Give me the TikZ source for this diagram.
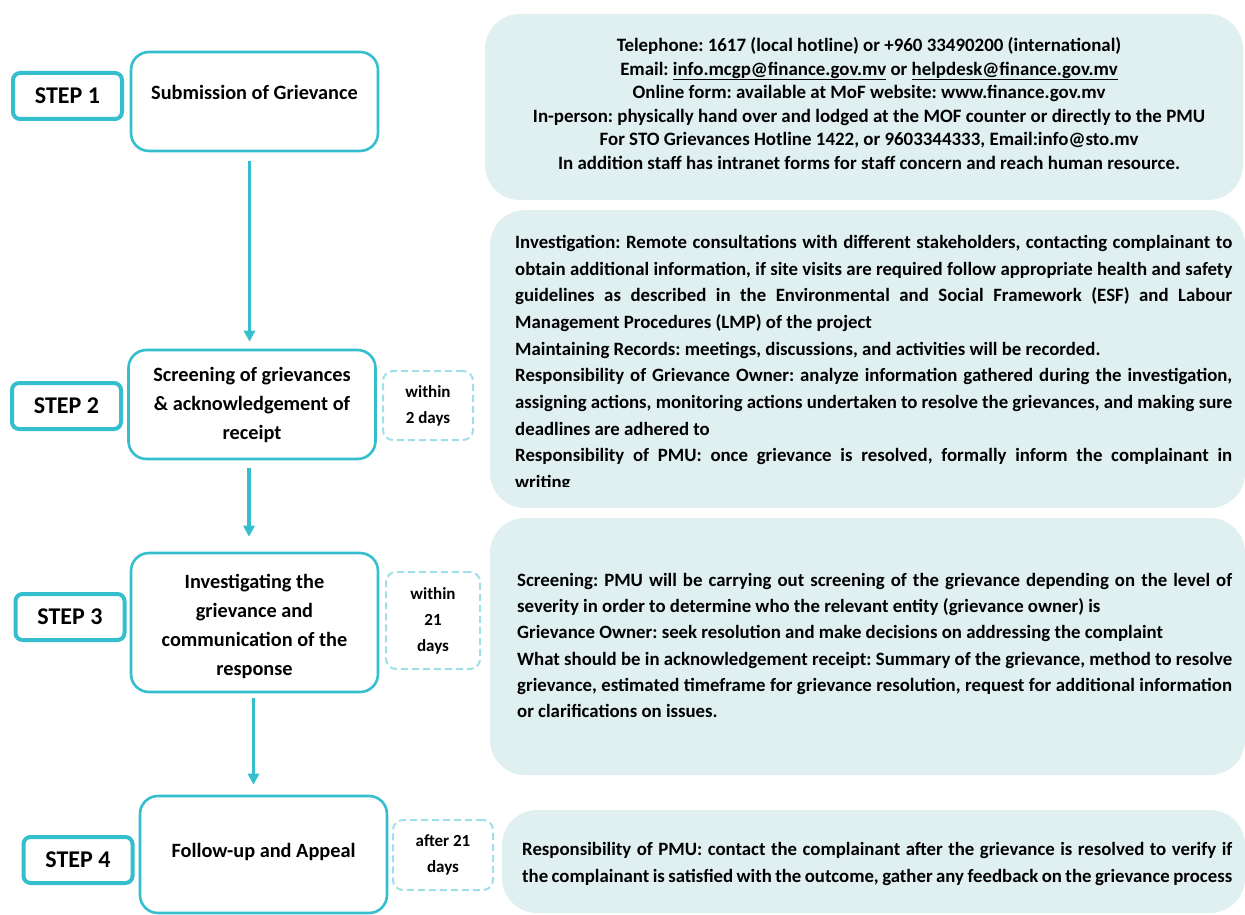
\documentclass[tikz,border=0pt]{standalone}
\usepackage{fontspec}
\setmainfont{Carlito}
\usepackage{tikz}
\usetikzlibrary{arrows.meta,positioning}

\definecolor{stroke}{HTML}{34BECE}
\definecolor{dashc}{HTML}{A0DEE8}
\definecolor{infobg}{HTML}{E0F0F1}
% one justified line of a panel
\newcommand{\fl}[1]{\makebox[\hsize][s]{#1}\\}
\frenchspacing

\begin{document}
\begin{tikzpicture}[
    x=1pt, y=-1pt,
    every node/.style={font=\bfseries, align=center, inner sep=0pt, execute at begin node={\spaceskip=0pt\relax}},
    steplabel/.style={rectangle, draw=stroke, line width=4pt, rounded corners=7pt, minimum width=109pt, minimum height=46pt, font=\fontsize{24}{28}\selectfont\bfseries},
    stage/.style={rectangle, draw=stroke, line width=2.6pt, rounded corners=18pt, minimum width=247pt, font=\fontsize{20.3}{29}\selectfont\bfseries},
    timing/.style={rectangle, draw=dashc, line width=2pt, dash pattern=on 7pt off 4pt, rounded corners=10pt, font=\fontsize{17}{26}\selectfont\bfseries},
    info/.style={fill=infobg, rounded corners=35pt},
    infotext/.style={text width=#1, align=left},
    flow/.style={draw=stroke, line width=3.5pt, -{Triangle[length=11pt,width=11pt]}}
]
\useasboundingbox (0,0) rectangle (1245,915);

% panels on the right
\fill[info] (485,14) rectangle (1243,200);
\fill[info] (490,210) rectangle (1245,508);
\fill[info] (490,518) rectangle (1245,775);
\fill[info] (502,810) rectangle (1245,913);

\node [font=\fontsize{18.9}{23.6}\selectfont\bfseries] (contact) at (869,103.5) {
    Telephone: 1617 (local hotline) or +960 33490200 (international)\\
    Email: \underline{info.mcgp@finance.gov.mv} or \underline{helpdesk@finance.gov.mv}\\
    Online form: available at MoF website: www.finance.gov.mv\\
    In-person: physically hand over and lodged at the MOF counter or directly to the PMU\\
    For STO Grievances Hotline 1422, or 9603344333, Email:info@sto.mv\\
    In addition staff has intranet forms for staff concern and reach human resource.
};

\begin{scope}
    \clip (490,210) rectangle (1245,486.5);
    \node [infotext=717pt, anchor=west, font=\fontsize{18.8}{26.7}\selectfont\bfseries] (investigation) at (515,363.5) {
        \fl{Investigation: Remote consultations with different stakeholders, contacting complainant to}
        \fl{obtain additional information, if site visits are required follow appropriate health and safety}
        \fl{guidelines as described in the Environmental and Social Framework (ESF) and Labour}
        Management Procedures (LMP) of the project\\
        Maintaining Records: meetings, discussions, and activities will be recorded.\\
        \fl{Responsibility of Grievance Owner: analyze information gathered during the investigation,}
        \fl{assigning actions, monitoring actions undertaken to resolve the grievances, and making sure}
        deadlines are adhered to\\
        \fl{Responsibility of PMU: once grievance is resolved, formally inform the complainant in}
        writing
    };
\end{scope}

\node [infotext=715pt, anchor=west, font=\fontsize{18.8}{26.3}\selectfont\bfseries] (screening) at (517,645.5) {
    \fl{Screening: PMU will be carrying out screening of the grievance depending on the level of}
    severity in order to determine who the relevant entity (grievance owner) is\\
    Grievance Owner: seek resolution and make decisions on addressing the complaint\\
    \fl{What should be in acknowledgement receipt: Summary of the grievance, method to resolve}
    \fl{grievance, estimated timeframe for grievance resolution, request for additional information}
    or clarifications on issues.
};

\node [infotext=710pt, anchor=west, font=\fontsize{18.8}{26.7}\selectfont\bfseries] (followup) at (522,864) {
    \fl{Responsibility of PMU: contact the complainant after the grievance is resolved to verify if}
    \makebox[\hsize][s]{the complainant is satisfied with the outcome, gather any feedback on the grievance process}
};

% step labels
\node [steplabel] (s1) at (67.5,96) {STEP 1};
\node [steplabel] (s2) at (66.5,406) {STEP 2};
\node [steplabel] (s3) at (70,617) {STEP 3};
\node [steplabel] (s4) at (78,860) {STEP 4};

% stages
\node [stage, minimum height=99pt, text depth=18pt] (sub) at (254.5,101.5) {Submission of Grievance};
\node [stage, minimum height=109pt] (scr) at (252,404.5) {Screening of grievances\\ \& acknowledgement of\\ receipt};
\node [stage, minimum height=139pt, text height=109pt] (inv) at (254.5,622.5) {Investigating the\\ grievance and\\ communication of the\\ response};
\node [stage, minimum height=117pt, text depth=9pt] (fol) at (263.5,854.5) {Follow-up and Appeal};

% time limits
\node [timing, minimum width=90pt, minimum height=69pt] (t2) at (428,405.5) {within\\ 2 days};
\node [timing, minimum width=94pt, minimum height=97pt] (t3) at (433,620.5) {within\\ 21\\ days};
\node [timing, minimum width=100pt, minimum height=70pt] (t4) at (443,855) {after 21\\ days};

% flow
\draw [flow, shorten <=9pt, shorten >=7pt] ([xshift=-5pt]sub.south) -- ([xshift=-5pt]sub.south |- scr.north);
\draw [flow, shorten <=8pt, shorten >=15pt] ([xshift=-3pt]scr.south) -- ([xshift=-3pt]scr.south |- inv.north);
\draw [flow, shorten <=5pt, shorten >=10pt] ([xshift=-1pt]inv.south) -- ([xshift=-1pt]inv.south |- fol.north);
\end{tikzpicture}
\end{document}
